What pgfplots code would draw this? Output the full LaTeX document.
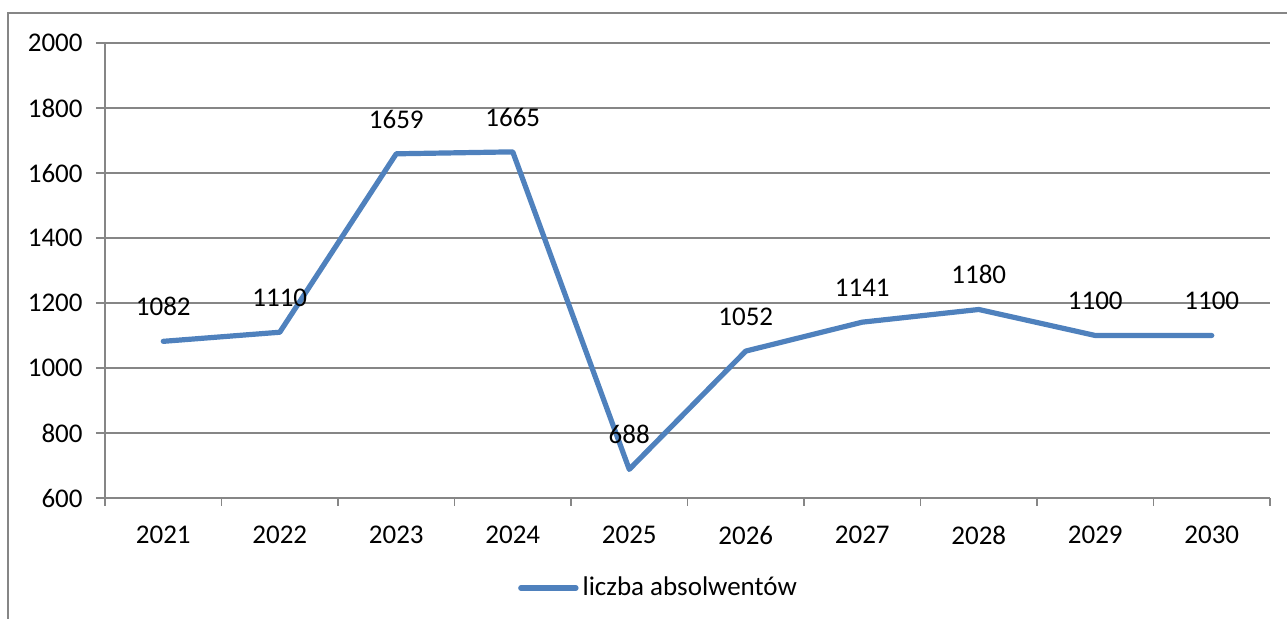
\documentclass[border=0pt]{standalone}
\usepackage{fontspec}
\setmainfont{Carlito}
\usepackage{pgfplots}
\pgfplotsset{compat=1.18}
\definecolor{ser}{HTML}{4F81BD}
\definecolor{gr}{HTML}{868686}
\newcommand{\ff}{\fontsize{13.5}{16}\selectfont}
\begin{document}
\ff
\begin{tikzpicture}
\useasboundingbox (-52.5pt,-60.5pt) rectangle (591pt,249pt);
\draw[gr, line width=0.9pt] (-48.5pt,-80pt) rectangle (620pt,242.5pt);
\begin{axis}[
  at={(0,0)}, anchor=south west, scale only axis,
  width=582.5pt, height=227.5pt,
  xmin=-0.5, xmax=9.5, ymin=600, ymax=2000,
  ytick={600,800,...,2000},
  xtick={0,...,9},
  xticklabels={2021,2022,2023,2024,2025,2026,2027,2028,2029,2030},
  minor xtick={-0.5,0.5,...,9.5},
  axis x line=bottom, axis y line=left,
  axis line style={-, gr, line width=0.9pt},
  tick align=outside,
  major tick length=4.5pt, minor tick length=4pt,
  major x tick style={draw=none},
  minor x tick style={gr, line width=0.9pt},
  major y tick style={gr, line width=0.9pt},
  ymajorgrids, major grid style={gr, line width=0.9pt},
  /pgf/number format/1000 sep={},
  /pgf/number format/assume math mode=true,
  yticklabel style={font=\ff, xshift=-2pt},
  xticklabel style={font=\ff, yshift=-5pt},
  point meta=explicit symbolic,
  nodes near coords,
  nodes near coords style={font=\ff, text=black, anchor=south, inner sep=0pt, yshift=11.5pt},
  legend style={draw=none, at={(0.476,-0.198)}, anchor=center, font=\ff},
  legend image code/.code={\draw[#1] (0cm,0cm) -- (0.97cm,0cm);},
]
\addplot[ser, line width=2.6pt, line cap=round, line join=round] coordinates {
  (0,1082) [1082]
  (1,1110) [1110]
  (2,1659) [1659]
  (3,1665) [1665]
  (4,688) [688]
  (5,1052) [1052]
  (6,1141) [1141]
  (7,1180) [1180]
  (8,1100) [1100]
  (9,1100) [1100]
};
\addlegendentry{liczba absolwentów}
\end{axis}
\end{tikzpicture}
\end{document}
